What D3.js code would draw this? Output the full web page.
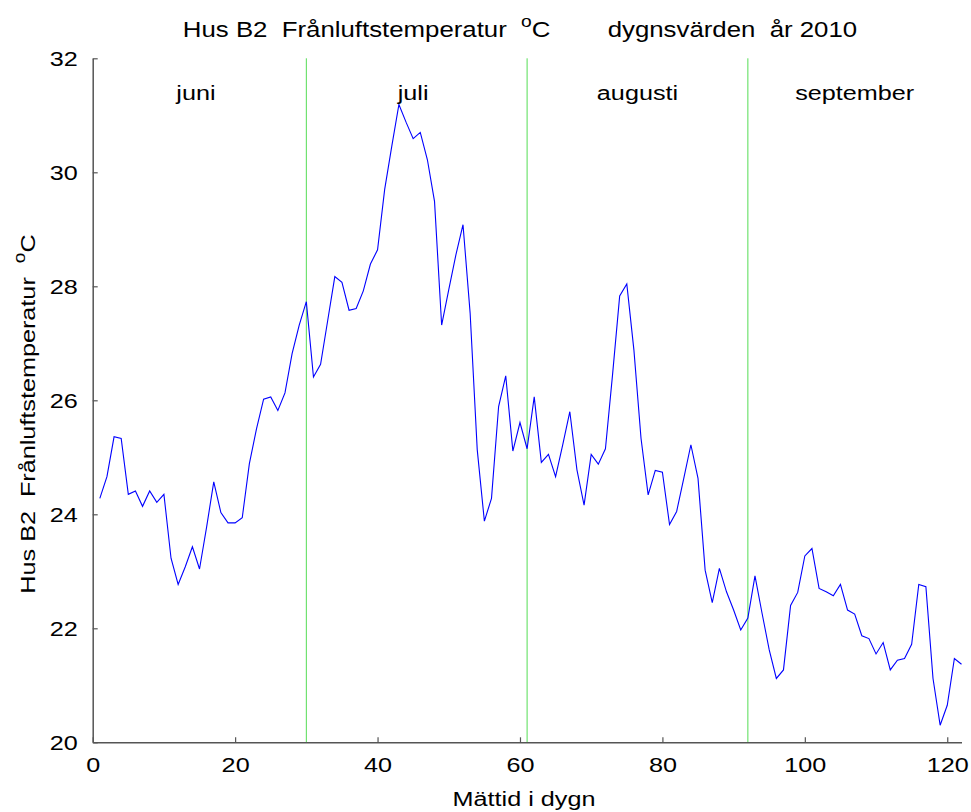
<!DOCTYPE html>
<html>
<head>
<meta charset="utf-8">
<script src="https://cdn.jsdelivr.net/npm/d3@7"></script>
<style>
  body { margin: 0; background: #fff; }
  svg { font-family: "Liberation Sans", Arial, sans-serif; }
</style>
</head>
<body>
<svg id="chart" width="971" height="812"></svg>
<script>
// Daily values, day 1..122 (June - September 2010)
const temps = [
  24.28, 24.66, 25.36, 25.33, 24.35, 24.41, 24.14, 24.41, 24.21, 24.35,
  23.23, 22.77, 23.08, 23.43, 23.04, 23.78, 24.57, 24.03, 23.85, 23.85,
  23.94, 24.89, 25.50, 26.02, 26.06, 25.82, 26.13, 26.82, 27.32, 27.73,
  26.41, 26.63, 27.40, 28.17, 28.07, 27.58, 27.61, 27.92, 28.39, 28.64,
  29.70, 30.46, 31.19, 30.88, 30.59, 30.70, 30.22, 29.49, 27.32, 27.94,
  28.55, 29.08, 27.53, 25.13, 23.88, 24.28, 25.89, 26.43, 25.11, 25.61,
  25.15, 26.06, 24.91, 25.05, 24.66, 25.22, 25.80, 24.78, 24.16, 25.05,
  24.88, 25.15, 26.45, 27.83, 28.04, 26.88, 25.33, 24.34, 24.77, 24.74,
  23.82, 24.05, 24.63, 25.22, 24.63, 23.02, 22.45, 23.05, 22.64, 22.32,
  21.97, 22.18, 22.92, 22.26, 21.62, 21.12, 21.27, 22.40, 22.63, 23.27,
  23.40, 22.70, 22.64, 22.57, 22.77, 22.32, 22.25, 21.87, 21.82, 21.55,
  21.75, 21.27, 21.44, 21.47, 21.72, 22.77, 22.73, 21.12, 20.30, 20.65,
  21.47, 21.37
];
const days = temps.map((_, i) => i + 1);
const monthBoundaries = [30, 61, 92];
const monthNames = ["juni", "juli", "augusti", "september"];
const monthLabelX = [14.5, 45, 76.5, 107];
const xTicks = [0, 20, 40, 60, 80, 100, 120];
const yTicks = [20, 22, 24, 26, 28, 30, 32];

const svg = d3.select("#chart");
const mLeft = 92.7, mRight = 961.5, mTop = 58.3, mBottom = 742.3;
const FS = 21, SX = 1.2;

const x = d3.scaleLinear().domain([0, 122]).range([mLeft, mRight]);
const y = d3.scaleLinear().domain([20, 32]).range([mBottom, mTop]);

const axisColor = "#555";

// month boundary lines
svg.append("g").selectAll("line").data(monthBoundaries).join("line")
  .attr("x1", d => x(d)).attr("x2", d => x(d))
  .attr("y1", y(32)).attr("y2", y(20))
  .attr("stroke", "#55dd55").attr("stroke-width", 1);

// data line
const line = d3.line().x((d, i) => x(days[i])).y(d => y(d));
svg.append("path").datum(temps)
  .attr("d", line)
  .attr("fill", "none")
  .attr("stroke", "#0000ff")
  .attr("stroke-width", 1.1);

// axes
const xAxis = d3.axisBottom(x).tickValues(xTicks).tickSize(-5).tickSizeOuter(0);
const gx = svg.append("g").attr("transform", `translate(0,${mBottom})`).call(xAxis);
gx.select(".domain").attr("stroke", axisColor).attr("stroke-width", 1.5);
gx.selectAll(".tick line").attr("stroke", axisColor).attr("stroke-width", 1.2);
gx.selectAll(".tick text").attr("font-size", FS).attr("fill", "#000")
  .attr("font-family", "Liberation Sans, Arial, sans-serif")
  .attr("y", 0).attr("transform", `translate(0,15) scale(${SX},1)`);

const yAxis = d3.axisLeft(y).tickValues(yTicks).tickSize(-5).tickSizeOuter(0);
const gy = svg.append("g").attr("transform", `translate(${mLeft},0)`).call(yAxis);
gy.select(".domain").attr("stroke", axisColor).attr("stroke-width", 1.5);
gy.selectAll(".tick line").attr("stroke", axisColor).attr("stroke-width", 1.2);
gy.selectAll(".tick text").attr("font-size", FS).attr("fill", "#000")
  .attr("font-family", "Liberation Sans, Arial, sans-serif")
  .attr("x", 0).attr("transform", `translate(-15,0) scale(${SX},1)`);

// month labels
svg.append("g").selectAll("text").data(monthNames).join("text")
  .attr("transform", (d, i) => `translate(${x(monthLabelX[i])},100) scale(${SX},1)`)
  .attr("text-anchor", "middle")
  .attr("font-size", FS)
  .attr("fill", "#000")
  .text(d => d);

// title
const title = svg.append("text")
  .attr("transform", `translate(520,37) scale(${SX},1)`)
  .attr("text-anchor", "middle")
  .attr("font-size", 21.5)
  .attr("fill", "#000")
  .style("white-space", "pre");
title.append("tspan").text("Hus B2  Frånluftstemperatur  ");
title.append("tspan").attr("dy", -10).attr("font-size", 16).text("o");
title.append("tspan").attr("dy", 10).text("C        dygnsvärden  år 2010");

// y label
const ylab = svg.append("text")
  .attr("transform", `translate(35,414) rotate(-90) scale(${SX},1)`)
  .attr("text-anchor", "middle")
  .attr("font-size", FS)
  .attr("fill", "#000")
  .style("white-space", "pre");
ylab.append("tspan").text("Hus B2  Frånluftstemperatur  ");
ylab.append("tspan").attr("dy", -10).attr("font-size", 16).text("o");
ylab.append("tspan").attr("dy", 10).text("C");

// x label
svg.append("text")
  .attr("transform", `translate(524,806) scale(${SX},1)`)
  .attr("text-anchor", "middle")
  .attr("font-size", FS)
  .attr("fill", "#000")
  .text("Mättid i dygn");
</script>
</body>
</html>
